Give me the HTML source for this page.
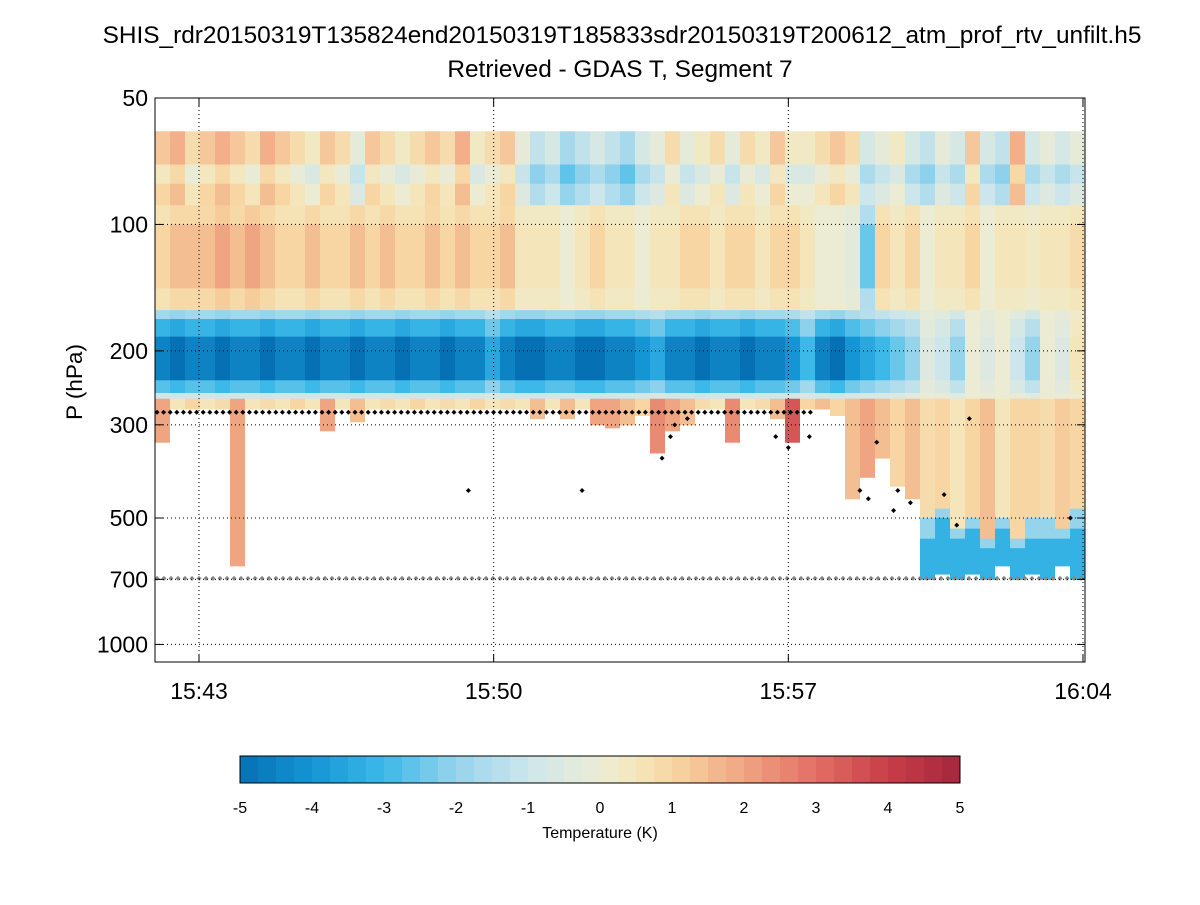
<!DOCTYPE html>
<html><head><meta charset="utf-8"><style>
body{margin:0;background:#fff;font-family:"Liberation Sans",sans-serif}
</style></head><body>
<svg id="chart" width="1200" height="900" xmlns="http://www.w3.org/2000/svg" font-family="Liberation Sans, sans-serif">
<rect width="1200" height="900" fill="#fff"/>
<text x="622" y="43" font-size="24.4" text-anchor="middle">SHIS_rdr20150319T135824end20150319T185833sdr20150319T200612_atm_prof_rtv_unfilt.h5</text>
<text x="620" y="77" font-size="24.4" text-anchor="middle">Retrieved - GDAS T, Segment 7</text>
<g id="cells"></g>
<g id="marks"></g>
<g id="axes"></g>
<rect x="155" y="98" width="930" height="564" fill="none" stroke="#000" stroke-width="1"/>
<text transform="translate(82,382) rotate(-90)" font-size="22.5" text-anchor="middle">P (hPa)</text>
<g id="cbar"></g>
<text x="600" y="838" font-size="16" text-anchor="middle">Temperature (K)</text>
</svg>
<script>
const upper=[1,1.5,0.5,1,1.5,1,0.5,1.5,1,0.5, 0,1,0.5,-0.5,1,0.5,0,0.5, 1,0.5,1.5,0,0.5,1,-0.5, -1.5,-1,-2,-1.5,-1,-1.5,-2,-1,-0.5, 0.5,-0.5,0,0.5,-0.5,0.5,0,1,0, 0,0.5,1,0.5, -1,-0.5,0,-1,-1.5,-0.5,-1,1,-1,-1.5,1.5,-1,-0.5,-1,-0.5];
const mid=[1,1.5,1.5,1.5,2,1.5,2,1.5,1,1, 1.5,1,1,1.5,1,1.5,1,1, 1.5,1,1.5,1,1,1.5,0.5, 0.5,0.5,0,0.5,1,0.5,0.5,0,0.5, 0.5,1,1,0.5,1,1,0.5,1,1, 0.5,0,0,-0.3, -2.5,1,0.5,1,0,0.5,0.5,1,0,0.5,0.5,0.3,0.5,0.5,0.8];
const cold=[-4.5,-5,-4.5,-4.5,-5,-4.5,-4.5,-5,-4.5,-4.5, -5,-4.5,-4.5,-5,-4.5,-4.5,-5,-4.5,-4.5,-5,-4.5,-4.5,-3.5,-4.5,-5, -5,-4.5,-4.5,-5,-5,-4.5,-4.5,-4,-3.5, -4.5,-4.5,-5,-4.5,-4.5,-5,-4.5,-4.5,-4, -3,-4.5,-5,-4,-3.5,-3,-2.5,-2,-0.5,-1,-2,0,-0.5,0,-1,-2,0,-0.5,0.5];
const lowerVal=[2,0.5,1,0.5,0.8,2,0.5,0.8,0.5,1,0.5,2,0.5,1.5,0.5,0.8,0.5,1,0.5,0.8,0.5,1,0.5,0.8,0.5,1.5,0.5,1.5,0.5,2,2,1.5,1,2.5,2,1.5,0.8,0.5,2.5,0.5,0.8,1.5,3.5,1,1.5,1,1.5,2,1.5,1,1.5,0.8,1,0.5,1,1.5,0.5,1,1,0.8,1.2,1];
const cutoff=[330,275,275,275,275,650,275,275,275,275,275,310,275,295,275,275,275,275,275,275,275,275,275,275,275,290,275,290,275,300,305,300,285,350,310,300,275,275,330,275,275,290,330,275,275,285,450,400,360,420,450,700,680,700,680,700,650,700,680,700,650,700];
const deepStart=[0,0,0,0,0,0,0,0,0,0,0,0,0,0,0,0,0,0,0,0,0,0,0,0,0,0,0,0,0,0,0,0,0,0,0,0,0,0,0,0,0,0,0,0,0,0,0,0,0,0,0,500,460,520,480,540,480,540,500,500,520,470];
const levels=[60,64,68,72,76,80,85,90,95,100,107,114,121,128,135,142,150,160,168,176,185,195,205,215,225,235,245,252,260,270,285,300,320,340,360,380,400,425,450,475,500,530,560,590,620,650,680,700];
const yTicks=[50,100,200,300,500,700,1000];
const xTicks=[43,50,57,64];
const xTickLabels=["15:43","15:50","15:57","16:04"];
const blackT=[49.4,52.1,54.0,54.2,54.3,54.6,56.7,57.0,57.5,58.7,58.9,59.1,59.5,59.6,59.9,60.7,61.3,61.0,63.7];
const blackP=[430,430,360,320,300,290,320,340,320,430,450,330,480,430,460,440,290,520,500];

const NS="http://www.w3.org/2000/svg";
const X0=155,COLW=15,PW=930;
function yScale(p){return 98+420*Math.log10(p/50);}
function xScale(m){return 199+(m-43)*(1083-199)/21;}
const stops=[[-5,[5,112,180]],[-4,[20,150,212]],[-3,[60,185,232]],[-2,[150,212,236]],[-1,[205,230,235]],[0,[236,236,212]],[0.5,[244,230,186]],[1,[248,214,164]],[2,[240,165,130]],[3,[226,110,100]],[4,[200,62,72]],[5,[165,38,60]]];
function color(v){v=Math.max(-5,Math.min(5,v));for(let i=0;i<stops.length-1;i++){const a=stops[i],b=stops[i+1];if(v<=b[0]){const t=(v-a[0])/(b[0]-a[0]);const c=a[1].map((x,k)=>Math.round(x+(b[1][k]-x)*t));return `rgb(${c})`;}}return 'rgb(165,38,60)';}
function coldShape(p){if(p<168)return 0.4;if(p<185)return 0.7;if(p<235)return 1;if(p<250)return 0.6;return 0.2;}
function val(c,p){
 if(p<90)return upper[c]+(p<72?0.3:(p<80?-0.6:0));
 if(p<160)return mid[c]*((p<100||p>=142)?0.6:1);
 if(p<260)return cold[c]*coldShape(p);
 if(deepStart[c]&&p>=deepStart[c])return p<deepStart[c]+40?-2:-3.2;
 return lowerVal[c];
}
const cells=document.getElementById('cells');
for(let c=0;c<upper.length;c++){
 for(let r=0;r<levels.length-1;r++){
  const p=levels[r];
  if(p>=cutoff[c])break;
  const x=X0+c*COLW;const w=Math.min(COLW,X0+PW-x);
  const y1=yScale(p),y2=yScale(Math.min(levels[r+1],cutoff[c]));
  const rc=document.createElementNS(NS,'rect');
  rc.setAttribute('x',x);rc.setAttribute('y',y1);rc.setAttribute('width',w);rc.setAttribute('height',y2-y1+0.5);
  rc.setAttribute('fill',color(val(c,p)));
  
  
  cells.appendChild(rc);
 }
}
const axes=document.getElementById('axes');
function line(x1,y1,x2,y2,dash,name){const l=document.createElementNS(NS,'line');l.setAttribute('x1',x1);l.setAttribute('y1',y1);l.setAttribute('x2',x2);l.setAttribute('y2',y2);l.setAttribute('stroke','#000');l.setAttribute('stroke-width','1');if(dash)l.setAttribute('stroke-dasharray',dash);


axes.appendChild(l);}
function text(x,y,s,anchor,size,name,parent){const t=document.createElementNS(NS,'text');t.setAttribute('x',x);t.setAttribute('y',y);t.setAttribute('text-anchor',anchor);t.setAttribute('font-size',size);t.textContent=s;


(parent||axes).appendChild(t);}
yTicks.forEach(p=>{const y=yScale(p);if(p>50)line(155,y,1085,y,'1,3','y-gridline');line(155,y,163,y,null,'y-tick');line(1077,y,1085,y,null,'y-tick');text(148,y+8,String(p),'end',23,'y-tick-label');});
xTicks.forEach((m,i)=>{const x=xScale(m);line(x,98,x,662,'1,3','x-gridline');line(x,654,x,662,null,'x-tick');line(x,98,x,106,null,'x-tick');text(x,699,xTickLabels[i],'middle',23,'x-tick-label');});
const marks=document.getElementById('marks');
function diamond(x,y,col,name){const d=document.createElementNS(NS,'path');d.setAttribute('d',`M${x},${y-2.5}L${x+2.5},${y}L${x},${y+2.5}L${x-2.5},${y}Z`);d.setAttribute('fill',col);


marks.appendChild(d);}
for(let x=157;x<=812;x+=6.6)diamond(x,yScale(280),'#000','cloud-top-marker');
for(let x=157;x<=1085;x+=7)diamond(x,yScale(700)-1,'#888','surface-marker');
blackT.forEach((t,i)=>diamond(xScale(t),yScale(blackP[i]),'#000','cloud-top-marker'));
const cb=document.getElementById('cbar');
const N=40;for(let i=0;i<N;i++){const v=-5+(i+0.5)*10/N;const r=document.createElementNS(NS,'rect');r.setAttribute('x',240+i*18);r.setAttribute('y',756);r.setAttribute('width',18.5);r.setAttribute('height',27);r.setAttribute('fill',color(v));


cb.appendChild(r);}
const fr=document.createElementNS(NS,'rect');fr.setAttribute('x',240);fr.setAttribute('y',756);fr.setAttribute('width',720);fr.setAttribute('height',27);fr.setAttribute('fill','none');fr.setAttribute('stroke','#000');


cb.appendChild(fr);
for(let v=-5;v<=5;v++){text(240+(v+5)*72,813,String(v),'middle',16,'colorbar-tick-label',cb);}
</script>
</body></html>
